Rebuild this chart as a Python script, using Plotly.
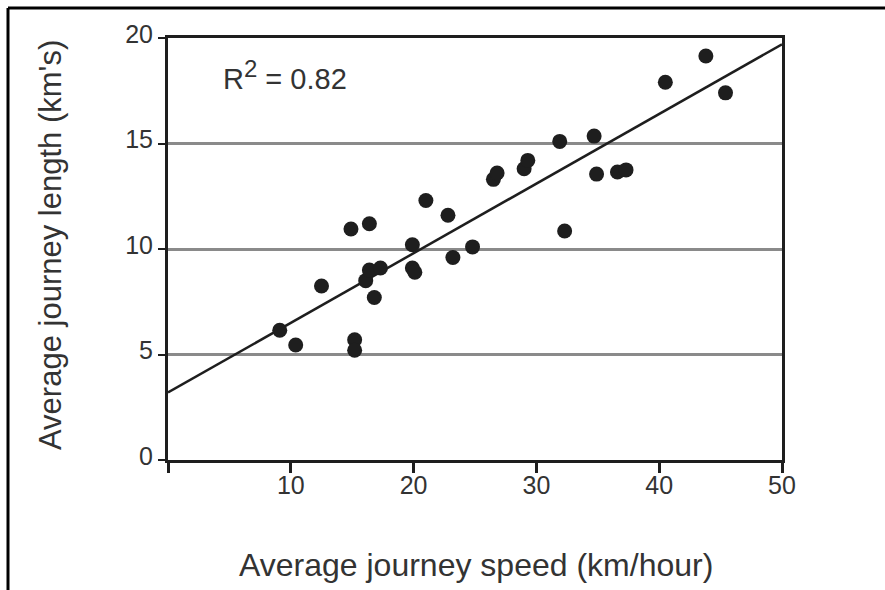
import plotly.graph_objects as go

# Average journey speed (km/hour) and average journey length (km) per observation
speed = [9.1, 10.4, 12.5, 14.9, 16.4, 15.2, 15.2, 16.1, 16.4, 16.8, 17.3,
         19.9, 19.9, 20.1, 21.0, 22.8, 23.2, 24.8, 26.5, 26.8, 29.0, 29.3,
         31.9, 32.3, 34.7, 34.9, 36.6, 37.3, 40.5, 43.8, 45.4]
length = [6.15, 5.45, 8.25, 10.95, 11.2, 5.7, 5.2, 8.5, 9.0, 7.7, 9.1,
          10.2, 9.1, 8.9, 12.3, 11.6, 9.6, 10.1, 13.3, 13.6, 13.8, 14.2,
          15.1, 10.85, 15.35, 13.55, 13.65, 13.75, 17.9, 19.15, 17.4]

# Fitted regression line end points
fit_x = [0, 50]
fit_y = [3.2, 19.7]
r_squared = "0.82"

x_ticks = [0, 10, 20, 30, 40, 50]
x_tick_text = ["", "10", "20", "30", "40", "50"]
y_ticks = [0, 5, 10, 15, 20]

FONT = "Arial, Liberation Sans, Helvetica, sans-serif"
TEXT = "#333333"
INK = "#1e1e1e"

fig = go.Figure()

fig.add_trace(go.Scatter(
    x=fit_x, y=fit_y, mode="lines",
    line=dict(color=INK, width=2.5),
    hoverinfo="skip", showlegend=False,
))

fig.add_trace(go.Scatter(
    x=speed, y=length, mode="markers",
    marker=dict(size=15, color=INK, line=dict(width=0)),
    showlegend=False,
))

fig.update_xaxes(
    range=[0, 50], tickvals=x_ticks, ticktext=x_tick_text,
    showgrid=False, zeroline=False,
    showline=True, linewidth=3, linecolor=INK, mirror=True,
    ticks="outside", ticklen=10, tickwidth=3, tickcolor=INK,
    ticklabelstandoff=-9,
    tickfont=dict(family=FONT, size=25, color=TEXT),
)
fig.update_yaxes(
    range=[0, 20], tickvals=y_ticks,
    showgrid=True, gridcolor="#8a8a8a", gridwidth=2.5, zeroline=False,
    showline=True, linewidth=3, linecolor=INK, mirror=True,
    ticks="outside", ticklen=7, tickwidth=2, tickcolor=INK,
    ticklabelshift=-4,
    tickfont=dict(family=FONT, size=25, color=TEXT),
)

# Plot-area geometry in pixels, used to place the outer frame
W, H = 885, 590
L, R, T, B = 168, 103, 38, 130
pw, ph = W - L - R, H - T - B

def px_x(p):
    return (p - L) / pw

def px_y(p):
    return (H - B - p) / ph

frame = dict(color="#000000", width=3)
shapes = [
    dict(type="line", xref="paper", yref="paper",
         x0=px_x(8), x1=px_x(W + 5), y0=px_y(8), y1=px_y(8), line=frame),
    dict(type="line", xref="paper", yref="paper",
         x0=px_x(8), x1=px_x(8), y0=px_y(8), y1=px_y(H + 5), line=frame),
]

annotations = [
    dict(x=4.3, y=18.25, xref="x", yref="y", xanchor="left", yanchor="middle",
         text="R<sup><span style='font-size:24px'>2</span></sup> = " + r_squared,
         showarrow=False,
         font=dict(family=FONT, size=29, color=TEXT)),
    dict(x=px_x(476), y=px_y(565), xref="paper", yref="paper",
         xanchor="center", yanchor="middle",
         text="Average journey speed (km/hour)", showarrow=False,
         font=dict(family=FONT, size=32, color=TEXT)),
    dict(x=px_x(50), y=px_y(245), xref="paper", yref="paper",
         xanchor="center", yanchor="middle", textangle=-90,
         text="Average journey length (km's)", showarrow=False,
         font=dict(family=FONT, size=31, color=TEXT)),
]

fig.update_layout(
    width=W, height=H,
    margin=dict(l=L, r=R, t=T, b=B),
    paper_bgcolor="white", plot_bgcolor="white",
    shapes=shapes, annotations=annotations,
    showlegend=False,
)

fig.write_html("out.html")
